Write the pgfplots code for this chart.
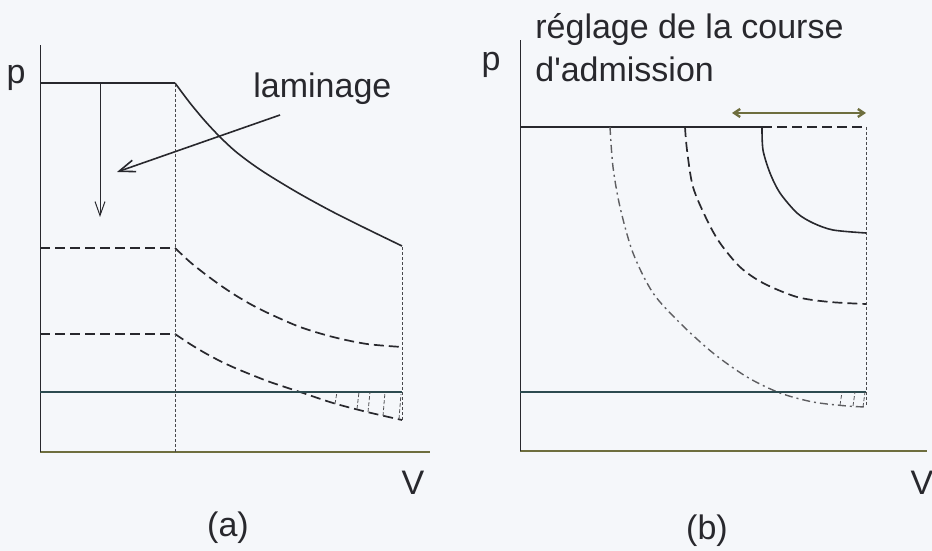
\documentclass[border=0pt]{standalone}
\usepackage{fontspec}
\setmainfont{Liberation Sans}
\usepackage{pgfplots}
\pgfplotsset{compat=1.18}
\usetikzlibrary{arrows.meta}

\definecolor{paper}{RGB}{245,247,250}
\definecolor{ink}{RGB}{40,40,45}
\definecolor{axisolive}{RGB}{110,110,62}
\definecolor{lineteal}{RGB}{45,75,80}

\tikzset{
  lbl/.style={font=\fontsize{17}{20}\selectfont, inner sep=0pt, text=ink},
  dashedcurve/.style={ink, line width=0.85pt, dash pattern=on 5pt off 2.5pt},
  thindots/.style={ink!85, line width=0.5pt, dash pattern=on 1.5pt off 1pt},
  hatch/.style={ink!80, line width=0.4pt, dash pattern=on 2pt off 1pt},
}
\pgfplotsset{
  sketch/.style={
    scale only axis, anchor=south west, clip=false,
    axis x line=bottom, axis y line=left, ticks=none,
    x axis line style={-, axisolive, line width=1pt},
    y axis line style={-, ink, line width=0.5pt},
  },
}

\begin{document}
\begin{tikzpicture}[x=0.5pt, y=0.5pt]
\useasboundingbox (0,0) rectangle (932,551);
\fill[paper] (0,0) rectangle (932,551);

% (a) laminage
\begin{axis}[sketch, at={(40,99)}, width=195pt, height=203.5pt,
  xmin=0, xmax=390, ymin=0, ymax=407]
\addplot[ink, line width=0.8pt] coordinates {(0,369) (135,369)};
\addplot[ink, line width=0.8pt, smooth, tension=0.5] coordinates {
  (135,369) (150,349) (165,331) (180,315) (195,301) (212,288)
  (230,276) (260,258) (293,240) (327,223) (362,206)};
\addplot[dashedcurve] coordinates {(0,204) (135,204)};
\addplot[dashedcurve, smooth, tension=0.5] coordinates {
  (135,204) (150,190) (165,178) (180,167) (195,157) (212,147)
  (230,138) (260,125) (293,115) (327,108) (362,105)};
\addplot[dashedcurve] coordinates {(0,118) (135,118)};
\addplot[dashedcurve, smooth, tension=0.5] coordinates {
  (135,118) (150,108) (165,99) (180,91) (195,84) (212,77)
  (230,70) (260,60) (293,49) (327,40) (362,32)};
\addplot[lineteal, line width=0.8pt] coordinates {(0,60) (362,60)};
\addplot[thindots] coordinates {(135,0) (135,369)};
\addplot[thindots] coordinates {(362,32) (362,206)};
% hatching below the back-pressure line
\addplot[hatch, unbounded coords=jump] coordinates {
  (295,48) (297,60) (nan,nan)
  (317,43) (319,60) (nan,nan)
  (328,40) (330,60) (nan,nan)
  (343,36) (345,60) (nan,nan)
  (359,33) (361,58)};
% arrows
\addplot[ink, line width=0.5pt, -{Straight Barb[length=7pt, width=5pt]}]
  coordinates {(60,369) (60,235)};
\addplot[ink, line width=0.8pt, -{Straight Barb[length=8pt, width=6pt]}]
  coordinates {(240,337) (77,280)};
\node[lbl, anchor=base] at (axis cs:-24,368) {p};
\node[lbl, anchor=base west] at (axis cs:213,354) {laminage};
\node[lbl, anchor=base] at (axis cs:373,-43) {V};
\node[lbl, anchor=base] at (axis cs:188,-85) {(a)};
\end{axis}

% (b) reglage de la course d'admission
\begin{axis}[sketch, at={(520,100)}, width=203.5pt, height=205.5pt,
  xmin=0, xmax=407, ymin=0, ymax=411]
\addplot[ink, line width=0.8pt] coordinates {(0,324) (242,324)};
\addplot[dashedcurve] coordinates {(242,324) (346,324)};
\addplot[thindots] coordinates {(346,324) (346,44)};
\addplot[axisolive, line width=1.2pt,
  {Straight Barb[length=3pt, width=4pt]}-{Straight Barb[length=3pt, width=4pt]}]
  coordinates {(212,338) (346,338)};
\addplot[ink, line width=0.8pt, smooth, tension=0.5] coordinates {
  (242,324) (243,301) (250,278) (260,258) (277,238) (293,228)
  (313,221) (346,218)};
\addplot[dashedcurve, smooth, tension=0.5] coordinates {
  (165,324) (167,301) (173,264) (187,231) (200,208) (220,184)
  (243,168) (277,154) (310,149) (346,147)};
\addplot[ink!75, line width=0.7pt, dash pattern=on 4pt off 2pt on 1pt off 2pt,
  smooth, tension=0.5] coordinates {
  (90,324) (93,284) (100,244) (113,198) (133,158) (160,128)
  (193,98) (227,74) (260,58) (293,49) (327,45) (346,44)};
\addplot[lineteal, line width=0.8pt] coordinates {(0,59) (346,59)};
\addplot[hatch, unbounded coords=jump] coordinates {
  (320,46) (322,59) (nan,nan)
  (333,45) (335,59) (nan,nan)
  (343,44) (345,59)};
\node[lbl, anchor=base] at (axis cs:-29,380) {p};
\node[lbl, anchor=base west] at (axis cs:15,412) {réglage de la course};
\node[lbl, anchor=base west] at (axis cs:15,369) {d\textquotesingle admission};
\node[lbl, anchor=base] at (axis cs:402,-44) {V};
\node[lbl, anchor=base] at (axis cs:187,-89) {(b)};
\end{axis}
\end{tikzpicture}
\end{document}
